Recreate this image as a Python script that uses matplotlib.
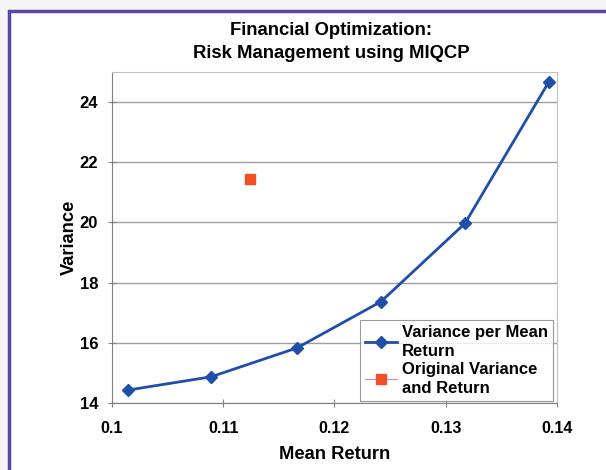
import matplotlib.pyplot as plt
from matplotlib.patches import Rectangle

plt.rcParams['font.family'] = ['Liberation Sans', 'DejaVu Sans']
plt.rcParams['font.weight'] = 'bold'

mean_return = [0.10144, 0.1089, 0.11663, 0.12418, 0.13173, 0.13928]
variance = [14.43, 14.87, 15.83, 17.37, 19.97, 24.68]
orig_return = [0.1124]
orig_variance = [21.45]
x_ticks = [0.10, 0.11, 0.12, 0.13, 0.14]
x_tick_labels = ['0.1', '0.11', '0.12', '0.13', '0.14']
y_ticks = [14, 16, 18, 20, 22, 24]

fig = plt.figure(figsize=(6.06, 4.70), dpi=100, facecolor='#f5f5f8')
# white panel with purple border, kept behind the axes
fig.patches.append(Rectangle((9 / 606, -0.05), 1.0, 1 - 11 / 470 + 0.05,
                             transform=fig.transFigure, facecolor='white',
                             edgecolor='#5b45a8', linewidth=2.5, zorder=-1))

ax = fig.add_axes([112 / 606, 1 - 403 / 470, 445 / 606, 331 / 470])
ax.plot(mean_return, variance, color='#1f4fa8', lw=2, marker='D', markersize=6.5,
        label='Variance per Mean\nReturn', zorder=3)
ax.plot(orig_return, orig_variance, color='#c58be0', lw=0.8, marker='s',
        markersize=7, markerfacecolor='#f04e23', markeredgecolor='#f04e23',
        label='Original Variance\nand Return', zorder=3)

ax.set_xlim(0.10, 0.14)
ax.set_ylim(14, 25)
ax.set_xticks(x_ticks)
ax.set_xticklabels(x_tick_labels)
ax.set_yticks(y_ticks)
ax.yaxis.grid(True, color='#a0a0a0', lw=1)
ax.set_axisbelow(True)
ax.tick_params(direction='inout', length=6, color='#808080')
ax.tick_params(axis='x', labelsize=11.5, pad=10)
ax.tick_params(axis='y', labelsize=12, pad=7)
for side in ['left', 'bottom']:
    ax.spines[side].set_color('#808080')
for side in ['top', 'right']:
    ax.spines[side].set_color('#c0c0c0')

ax.set_xlabel('Mean Return', fontsize=13.2, fontweight='bold', labelpad=7)
ax.set_ylabel('Variance', fontsize=13.2, fontweight='bold', labelpad=1)
ax.set_title('Financial Optimization:\nRisk Management using MIQCP',
             fontsize=13.3, fontweight='bold', pad=10, linespacing=1.5, x=0.492)

leg = ax.legend(loc='lower right', bbox_to_anchor=(0.991, 0.006), fontsize=12,
                frameon=True, fancybox=False, edgecolor='#808080',
                handlelength=1.9, handletextpad=0.3, borderpad=0.3,
                labelspacing=0.2, borderaxespad=0)
leg.get_frame().set_linewidth(0.8)
for txt in leg.get_texts():
    txt.set_fontweight('bold')
    txt.set_linespacing(1.3)

fig.savefig('out.png', dpi=100, facecolor=fig.get_facecolor())
